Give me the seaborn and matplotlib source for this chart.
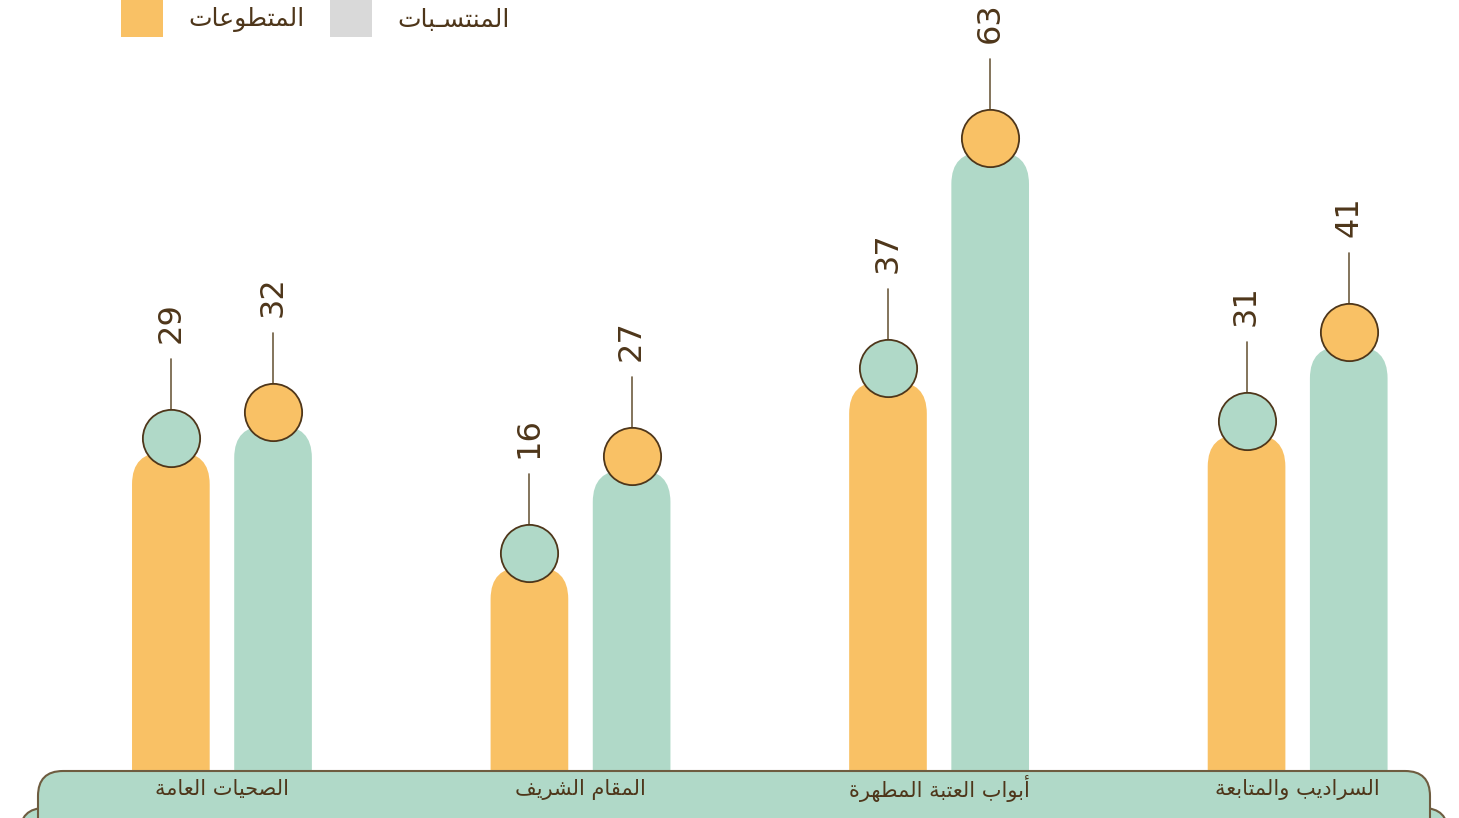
import pandas as pd
import matplotlib.pyplot as plt
import seaborn as sns
from matplotlib.patches import FancyBboxPatch, Rectangle
import matplotlib.transforms as mtransforms

# --- Data ---
categories = ["الصحيات العامة", "المقام الشريف", "أبواب العتبة المطهرة", "السراديب والمتابعة"]
volunteers = [29, 16, 37, 31]   # orange bars
members = [32, 27, 63, 41]      # green bars
series_names = ["المتطوعات", "المنتسبات"]
legend_labels = ["المتطوعات", "المنتسـبات"]
legend_colors = ["#F9C165", "#D9D9D9"]

ORANGE = "#F9C165"
GREEN = "#B0D9C8"
BROWN = "#4E361A"
EDGE = "#6E5C40"

# --- Minimal Arabic shaping (matplotlib has no RTL / joining support) ---
# isolated, final, initial, medial
FORMS = {
    "ا": (0xFE8D, 0xFE8E, None, None), "أ": (0xFE83, 0xFE84, None, None),
    "ب": (0xFE8F, 0xFE90, 0xFE91, 0xFE92), "ة": (0xFE93, 0xFE94, None, None),
    "ت": (0xFE95, 0xFE96, 0xFE97, 0xFE98), "ح": (0xFEA1, 0xFEA2, 0xFEA3, 0xFEA4),
    "د": (0xFEA9, 0xFEAA, None, None), "ر": (0xFEAD, 0xFEAE, None, None),
    "س": (0xFEB1, 0xFEB2, 0xFEB3, 0xFEB4), "ش": (0xFEB5, 0xFEB6, 0xFEB7, 0xFEB8),
    "ص": (0xFEB9, 0xFEBA, 0xFEBB, 0xFEBC), "ط": (0xFEC1, 0xFEC2, 0xFEC3, 0xFEC4),
    "ع": (0xFEC9, 0xFECA, 0xFECB, 0xFECC), "ف": (0xFED1, 0xFED2, 0xFED3, 0xFED4),
    "ق": (0xFED5, 0xFED6, 0xFED7, 0xFED8), "ل": (0xFEDD, 0xFEDE, 0xFEDF, 0xFEE0),
    "م": (0xFEE1, 0xFEE2, 0xFEE3, 0xFEE4), "ن": (0xFEE5, 0xFEE6, 0xFEE7, 0xFEE8),
    "ه": (0xFEE9, 0xFEEA, 0xFEEB, 0xFEEC), "و": (0xFEED, 0xFEEE, None, None),
    "ي": (0xFEF1, 0xFEF2, 0xFEF3, 0xFEF4), "ـ": (0x0640, 0x0640, 0x0640, 0x0640),
}


def shape(text):
    out = []
    for i, c in enumerate(text):
        if c not in FORMS:
            out.append(c)
            continue
        prev = text[i - 1] if i > 0 else None
        nxt = text[i + 1] if i + 1 < len(text) else None
        j_prev = prev in FORMS and FORMS[prev][2] is not None
        j_next = nxt in FORMS and FORMS[c][2] is not None
        iso, fin, ini, med = FORMS[c]
        if j_prev and j_next:
            code = med
        elif j_prev:
            code = fin
        elif j_next:
            code = ini
        else:
            code = iso
        out.append(chr(code))
    return "".join(out)[::-1]


df = pd.DataFrame({
    "category": categories * 2,
    "value": volunteers + members,
    "series": [series_names[0]] * 4 + [series_names[1]] * 4,
})

sns.set_theme(style="white")
plt.rcParams["font.family"] = ["DejaVu Sans"]

fig = plt.figure(figsize=(14.59, 8.18), dpi=100)
ax = fig.add_axes([0, 0, 1, 1])

sns.barplot(
    data=df, x="category", y="value", hue="series",
    order=categories, hue_order=series_names,
    palette=[ORANGE, GREEN], width=0.57, gap=0.24, saturation=1,
    legend=False, ax=ax,
)

PX_X = 358.5   # pixels per category unit
PX_Y = 8.83    # pixels per value unit
ax.set_xlim(-0.619, 3.450)
ax.set_ylim(-12.42, 80.21)   # bars run down under the label band
ax.axis("off")

# rounded-top bars + circle markers, leader lines and rotated values
circle_colors = [GREEN, ORANGE]
r = 32 / PX_X
for k, container in enumerate(ax.containers):
    for bar in container:
        x, w, h = bar.get_x(), bar.get_width(), bar.get_height()
        bar.set_visible(False)
        ax.add_patch(FancyBboxPatch(
            (x, -14), w, h + 14,
            boxstyle=f"round,pad=0,rounding_size={r}",
            mutation_aspect=PX_X / PX_Y,
            facecolor=bar.get_facecolor(), edgecolor="none", zorder=2,
        ))
        cx = x + w / 2
        cy = h + 14 / PX_Y
        ax.scatter([cx], [cy], s=1700, color=circle_colors[k],
                   edgecolor=BROWN, linewidth=1.3, zorder=4)
        ax.plot([cx, cx], [cy + 29 / PX_Y, cy + 79 / PX_Y],
                color=EDGE, lw=1.2, zorder=3)
        ax.text(cx, cy + 95 / PX_Y, f"{int(h)}", rotation=90,
                ha="center", va="bottom", fontsize=23, color=BROWN)

# bottom bands with category labels
W, H = 1459, 818
rad = 25
ax.add_patch(FancyBboxPatch(
    (20 / W, -0.2), 1428 / W, 0.2 + 10 / H,
    boxstyle=f"round,pad=0,rounding_size={rad / W}",
    mutation_aspect=W / H, transform=ax.transAxes,
    facecolor=GREEN, edgecolor=EDGE, lw=1.5, zorder=5, clip_on=False,
))
ax.add_patch(FancyBboxPatch(
    (38 / W, -0.1), 1392 / W, 0.1 + 47 / H,
    boxstyle=f"round,pad=0,rounding_size={rad / W}",
    mutation_aspect=W / H, transform=ax.transAxes,
    facecolor=GREEN, edgecolor=EDGE, lw=1.5, zorder=6, clip_on=False,
))
trans = mtransforms.blended_transform_factory(ax.transData, ax.transAxes)
for i, cat in enumerate(categories):
    ax.text(i, 29 / H, shape(cat), transform=trans, ha="center", va="center",
            fontsize=15, color=BROWN, zorder=7)

# legend (drawn as in the original: orange + grey squares)
legend_x = [121, 330]
for lx, lab, col in zip(legend_x, legend_labels, legend_colors):
    ax.add_patch(Rectangle((lx / W, 1 - 37 / H), 42 / W, 42 / H,
                           transform=ax.transAxes, facecolor=col,
                           edgecolor="none", clip_on=False, zorder=5))
    ax.text((lx + 67) / W, 1 - 20 / H, shape(lab), transform=ax.transAxes,
            ha="left", va="center", fontsize=18, color=BROWN)

plt.savefig("out.png", dpi=100)
